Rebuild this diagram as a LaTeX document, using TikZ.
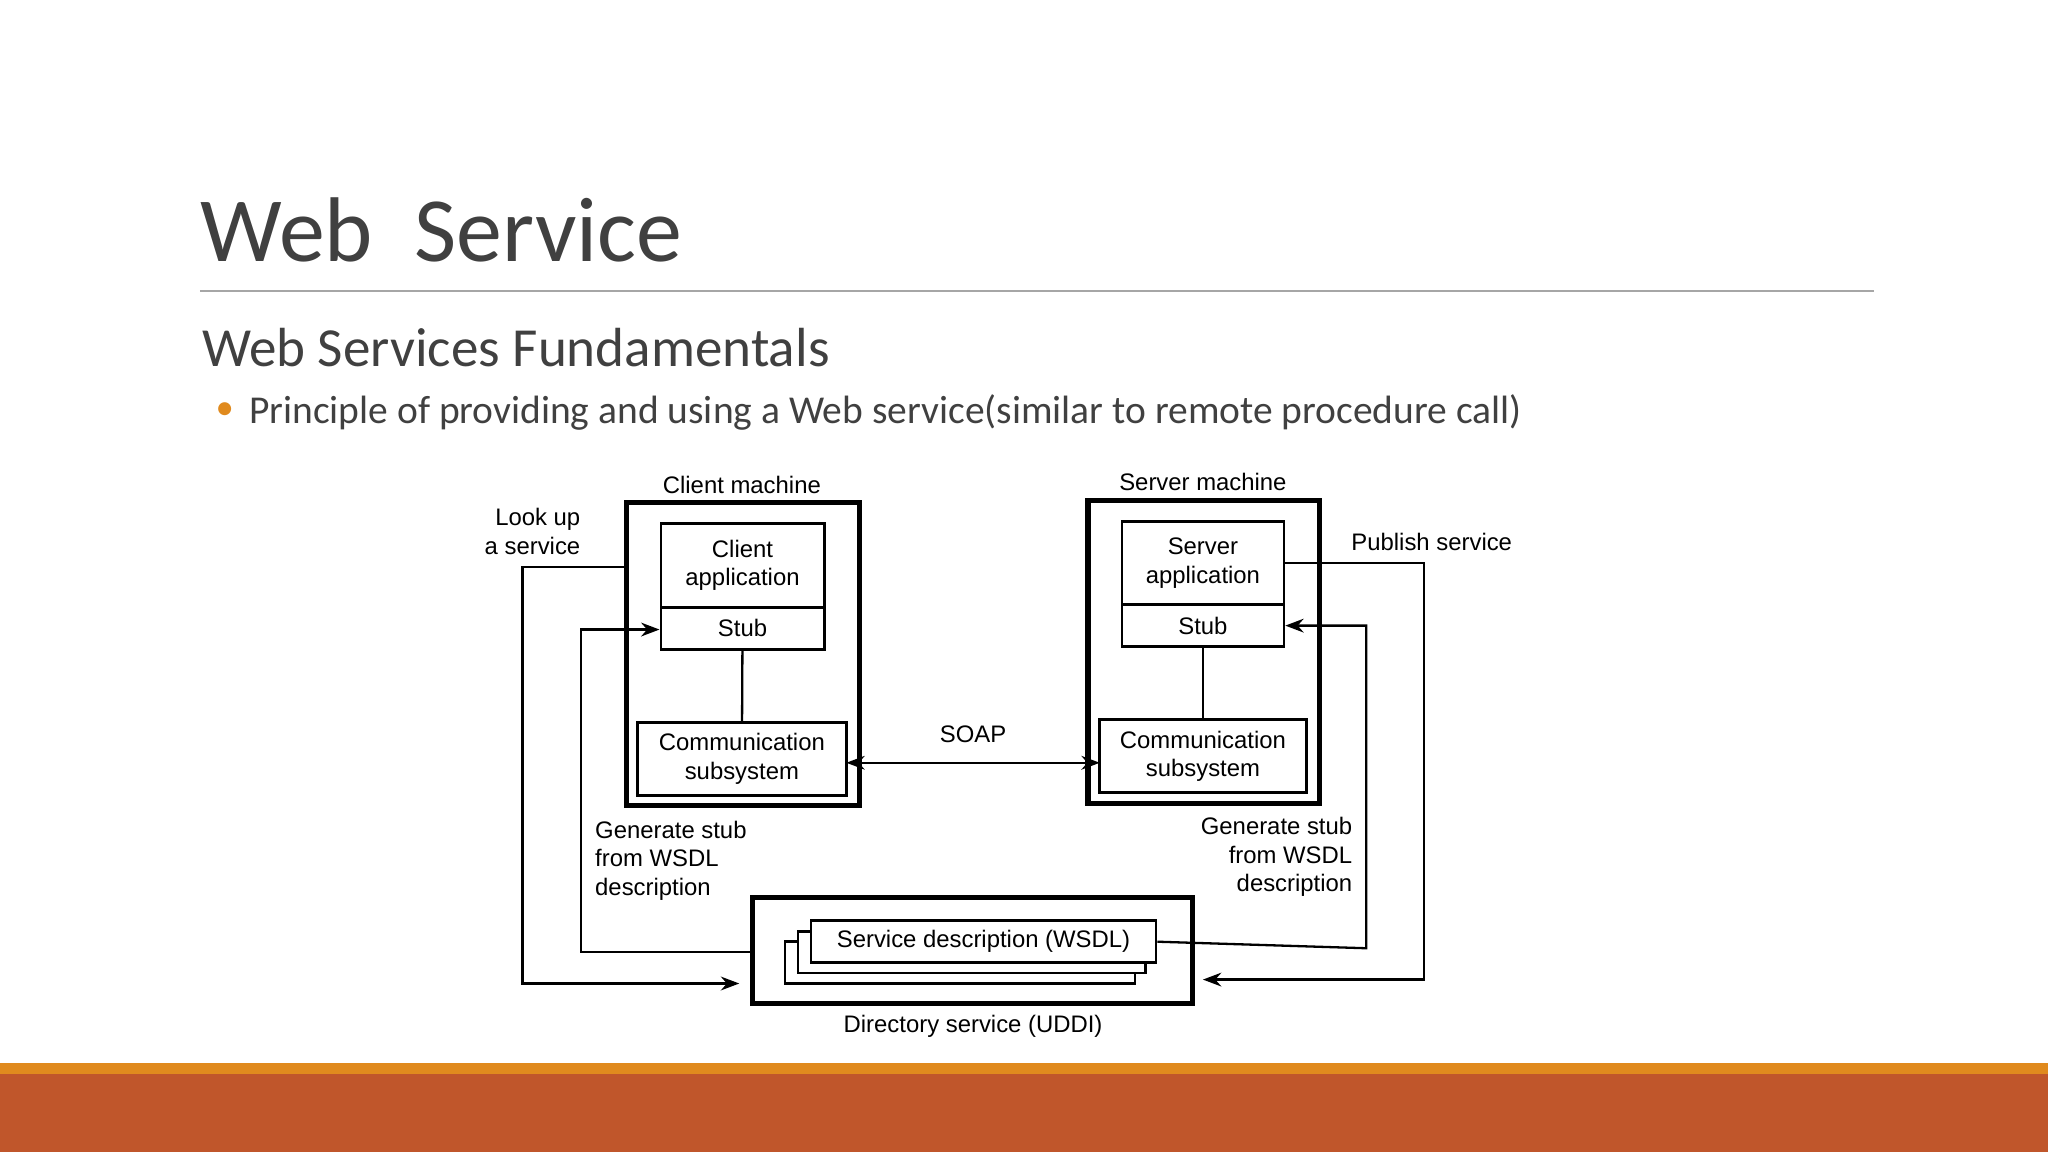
\documentclass[tikz,border=0pt]{standalone}
\usepackage{fontspec}
\setmainfont{Carlito}
\newfontfamily\diag{Liberation Sans}
\usetikzlibrary{arrows.meta}
\begin{document}
\begin{tikzpicture}[x=0.01cm,y=-0.01cm,
  bx/.style={draw,line width=0.6pt},
  ob/.style={draw,line width=1.1pt},
  lbl/.style={font=\diag\fontsize{5.2}{6.2}\selectfont,inner sep=0pt,align=center},
  ln/.style={line width=0.5pt},
  ar/.style={line width=0.5pt,-{Stealth[length=4pt,width=3pt]}}]
\useasboundingbox (0,0) rectangle (1568,882);
\definecolor{tg}{HTML}{404040}
\definecolor{orn}{HTML}{E08A1E}
\definecolor{rust}{HTML}{C0562B}
\fill[orn] (0,814) rectangle (1568,822);
\fill[rust] (0,822) rectangle (1568,882);
\node[anchor=base west,inner sep=0pt,text=tg,font=\fontsize{20}{24}\selectfont\addfontfeature{}] (title) at (153,200) {Web\ \ Service};
\draw[gray!70,line width=0.4pt] (153,223) -- (1435,223);
\node[anchor=west,inner sep=0pt,text=tg,font=\fontsize{12}{14}\selectfont] (sub) at (154,266) {Web Services Fundamentals};
\node[anchor=center,inner sep=0pt,text=orn,font=\fontsize{8}{9}\selectfont] (bul) at (172,315) {•};
\node[anchor=west,inner sep=0pt,text=tg,font=\fontsize{8.6}{10}\selectfont] (btxt) at (190,316) {Principle of providing and using a Web service(similar to remote procedure call)};
% client
\draw[ob] (480,385) rectangle (658,617);
\node[lbl] (cm) at (568,371) {Client machine};
\node[bx,minimum width=125*0.01cm,minimum height=64*0.01cm,lbl,draw] (capp) at (568.5,433) {Client\\application};
\node[bx,minimum width=125*0.01cm,minimum height=32*0.01cm,lbl,draw] (cstub) at (568.5,481) {Stub};
\node[bx,minimum width=160*0.01cm,minimum height=56*0.01cm,lbl,draw] (ccom) at (568,581) {Communication\\subsystem};
\draw[ln] (cstub) -- (ccom);
% server
\draw[ob] (833,383) rectangle (1010,615);
\node[lbl] (sm) at (921,369) {Server machine};
\node[bx,minimum width=124*0.01cm,minimum height=64*0.01cm,lbl,draw] (sapp) at (921,431) {Server\\application};
\node[bx,minimum width=124*0.01cm,minimum height=32*0.01cm,lbl,draw] (sstub) at (921,479) {Stub};
\node[bx,minimum width=158*0.01cm,minimum height=56*0.01cm,lbl,draw] (scom) at (921,579) {Communication\\subsystem};
\draw[ln] (sstub) -- (scom);
% SOAP
\coordinate (sl) at (648,584);
\coordinate (sr) at (842,584);
\draw[line width=0.5pt,{Stealth[length=4pt,width=3pt]}-{Stealth[length=4pt,width=3pt]}] (sl) -- (sr);
\node[lbl] (soap) at (745,562) {SOAP};
% directory
\draw[ob] (576,687) rectangle (913,768);
\node[lbl] (dir) at (745,786) {Directory service (UDDI)};
\draw[bx,fill=white] (601,721) rectangle (869,753);
\draw[bx,fill=white] (611,713) rectangle (877,745);
\node[bx,draw,fill=white,minimum width=264*0.01cm,minimum height=32*0.01cm,lbl] (wsdl) at (753,721) {Service description (WSDL)};
% lookup
\node[lbl,align=right,anchor=east] (look) at (445,407) {Look up\\a service};
\coordinate (l1) at (480,434);
\coordinate (l2) at (566,753);
\draw[ar] (l1) -- (400,434) -- (400,753) -- (l2);
\coordinate (g1) at (576,729);
\draw[ar] (g1) -- (445,729) -- (445,482) -- (cstub.west |- 0,482);
\node[lbl,align=left,anchor=north west] (gl) at (455,628) {Generate stub\\from WSDL\\description};
% server side
\node[lbl,anchor=west] (pub) at (1034,415) {Publish service};
\coordinate (p2) at (921,750);
\draw[ar] (sapp.east) -- (1090,431) -- (1090,750) -- (p2);
\draw[ar] (wsdl.east) -- (1046,726) -- (1046,479) -- (sstub.east);
\node[lbl,align=right,anchor=north east] (gr) at (1036,625) {Generate stub\\from WSDL\\description};
\end{tikzpicture}
\end{document}
